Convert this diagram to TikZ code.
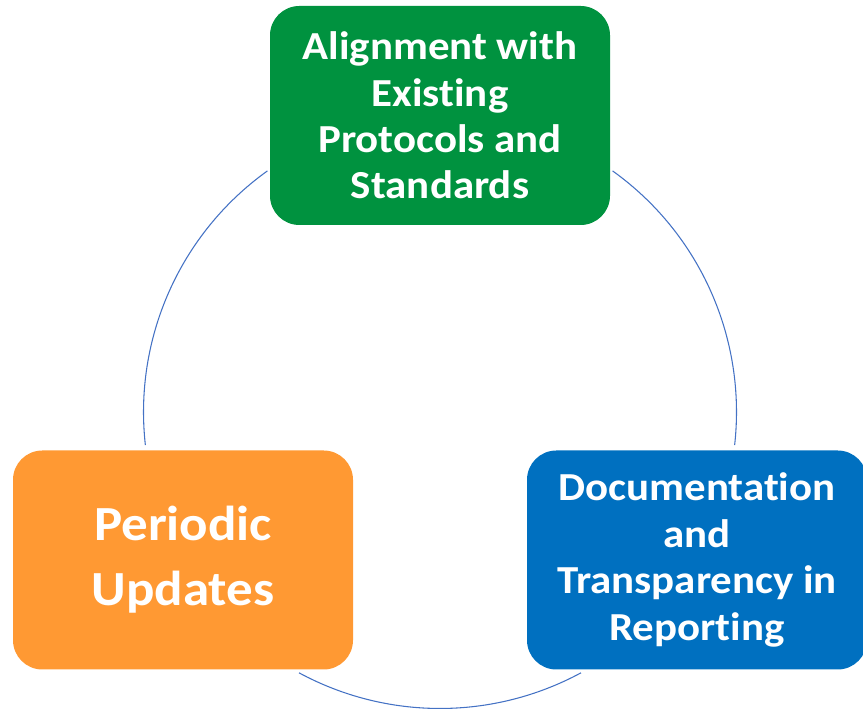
\documentclass[tikz,border=0pt]{standalone}
\usepackage{fontspec}
\setmainfont{Carlito}[Ligatures=NoCommon, FakeStretch=1.08]
\usepackage{tikz}

\definecolor{boxgreen}{RGB}{0,146,63}
\definecolor{boxorange}{RGB}{255,153,51}
\definecolor{boxblue}{RGB}{0,112,192}
\definecolor{ringblue}{RGB}{68,114,196}

\begin{document}
\begin{tikzpicture}[x=0.75pt,y=0.75pt,
        stage box/.style={rounded corners=22pt, minimum width=255pt, minimum height=164.25pt,
            inner sep=0pt, align=center, text=white, font=\bfseries\fontsize{29.8}{34.8}\selectfont},
        ring/.style={draw=ringblue, line width=0.8pt}]

    \useasboundingbox (0,0) rectangle (863,709);

    \coordinate (c) at (440,297);

    \node[stage box, fill=boxgreen] (align) at (440,593.5) {Alignment with\\Existing\\Protocols and\\Standards};
    \node[stage box, fill=boxblue] (docs) at (697,149) {Documentation\\and\\Transparency in\\Reporting};
    \node[stage box, fill=boxorange, font=\bfseries\fontsize{36.8}{48.75}\selectfont] (updates) at (183,149) {Periodic\\Updates};

    \draw[ring] (c) ++(125.6:296.5) arc[start angle=125.6, end angle=186.4, radius=296.5];
    \draw[ring] (c) ++(54.4:296.5) arc[start angle=54.4, end angle=-6.4, radius=296.5];
    \draw[ring] (c) ++(241.6:296.5) arc[start angle=241.6, end angle=298.4, radius=296.5];

\end{tikzpicture}
\end{document}
